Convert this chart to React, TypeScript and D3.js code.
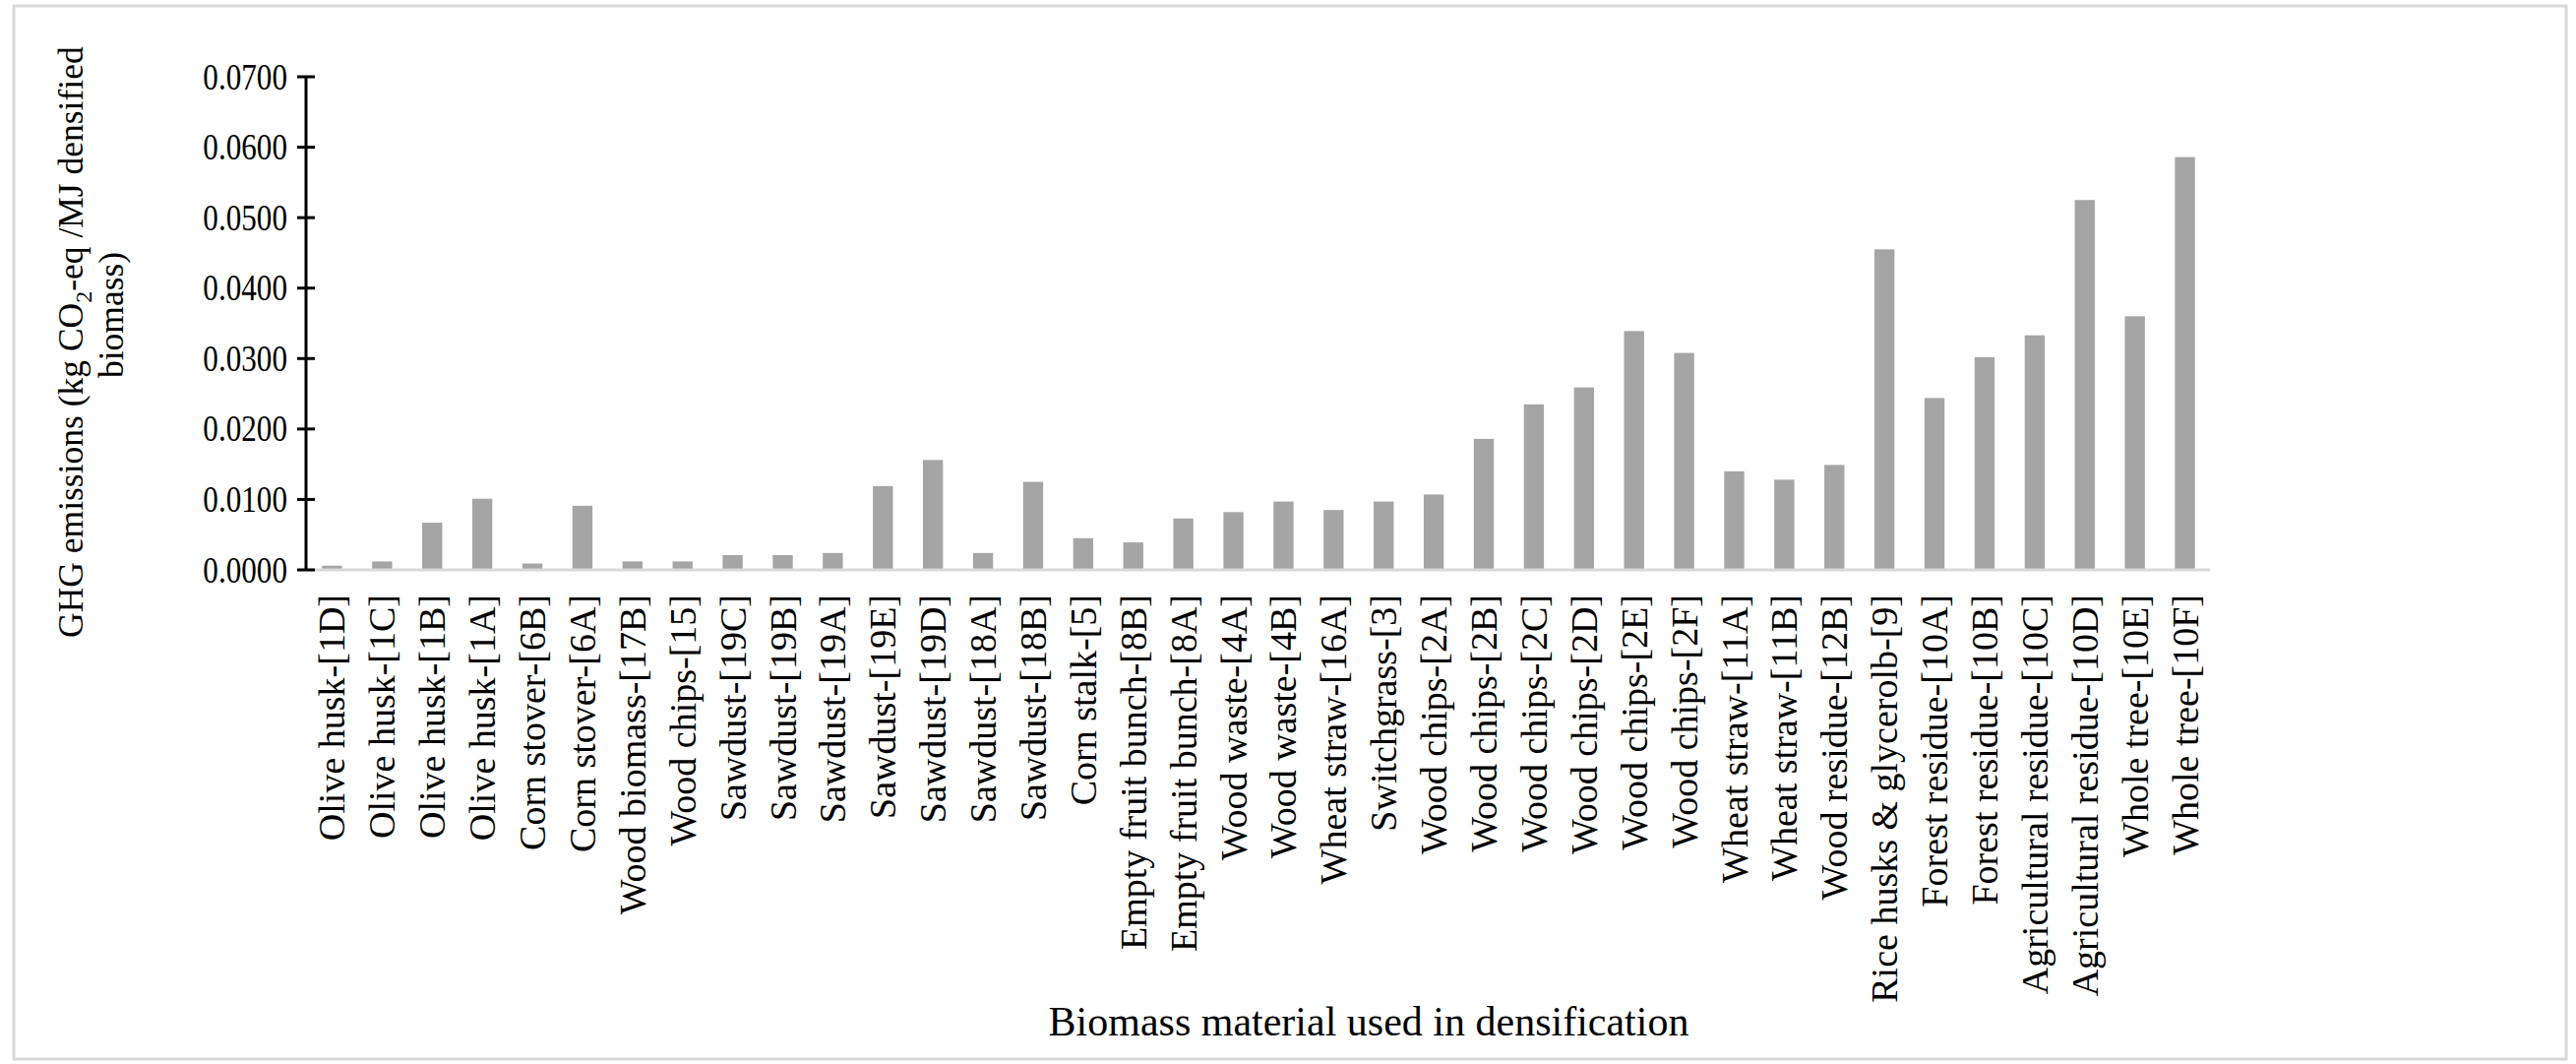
import React from "react";
import * as d3 from "d3";

const categories: string[] = [
  "Olive husk-[1D]", "Olive husk-[1C]", "Olive husk-[1B]", "Olive husk-[1A]",
  "Corn stover-[6B]", "Corn stover-[6A]", "Wood biomass-[17B]", "Wood chips-[15]",
  "Sawdust-[19C]", "Sawdust-[19B]", "Sawdust-[19A]", "Sawdust-[19E]", "Sawdust-[19D]",
  "Sawdust-[18A]", "Sawdust-[18B]", "Corn stalk-[5]", "Empty fruit bunch-[8B]",
  "Empty fruit bunch-[8A]", "Wood waste-[4A]", "Wood waste-[4B]", "Wheat straw-[16A]",
  "Switchgrass-[3]", "Wood chips-[2A]", "Wood chips-[2B]", "Wood chips-[2C]",
  "Wood chips-[2D]", "Wood chips-[2E]", "Wood chips-[2F]", "Wheat straw-[11A]",
  "Wheat straw-[11B]", "Wood residue-[12B]", "Rice husks & glycerolb-[9]",
  "Forest residue-[10A]", "Forest residue-[10B]", "Agricultural residue-[10C]",
  "Agricultural residue-[10D]", "Whole tree-[10E]", "Whole tree-[10F]",
];

const ghgValues: number[] = [
  0.0006, 0.0012, 0.0067, 0.0101, 0.0009, 0.0091, 0.0012, 0.0012,
  0.0021, 0.0021, 0.0024, 0.0119, 0.0156, 0.0024, 0.0125, 0.0045,
  0.0039, 0.0073, 0.0082, 0.0097, 0.0085, 0.0097, 0.0107, 0.0186,
  0.0235, 0.0259, 0.0339, 0.0308, 0.0140, 0.0128, 0.0149, 0.0455,
  0.0244, 0.0302, 0.0333, 0.0525, 0.0360, 0.0586,
];

const yTicks: number[] = [0, 0.01, 0.02, 0.03, 0.04, 0.05, 0.06, 0.07];

const xTitle = "Biomass material used in densification";

export default function App() {
  const W = 2618;
  const H = 1081;
  const axisX = 311;
  const left = 312;
  const right = 2246;
  const top = 78;
  const bottom = 579;
  const font = "'Liberation Serif', 'Times New Roman', serif";

  const x = d3
    .scaleBand<string>()
    .domain(categories)
    .range([left, right])
    .paddingInner(0.6)
    .paddingOuter(0.3);
  const y = d3.scaleLinear().domain([0, 0.07]).range([bottom, top]);
  const fmt = d3.format(".4f");

  return (
    <svg
      width={W}
      height={H}
      style={{ position: "absolute", left: 0, top: 0, background: "#fff" }}
      fontFamily={font}
    >
      <rect x={0} y={0} width={W} height={H} fill="#fff" />
      <rect x={14} y={6} width={2594} height={1070} fill="none" stroke="#d9d9d9" strokeWidth={3} />

      {categories.map((c, i) => (
        <rect
          key={c}
          x={x(c)}
          y={y(ghgValues[i])}
          width={x.bandwidth()}
          height={y(0) - y(ghgValues[i])}
          fill="#a5a5a5"
        />
      ))}

      <line x1={left} x2={right} y1={y(0)} y2={y(0)} stroke="#d9d9d9" strokeWidth={3} />

      <line x1={axisX} x2={axisX} y1={y(0.07)} y2={y(0)} stroke="#000" strokeWidth={3} />
      {yTicks.map((t) => (
        <g key={t}>
          <line x1={axisX - 9} x2={axisX + 9} y1={y(t)} y2={y(t)} stroke="#000" strokeWidth={3} />
          <text
            transform={`translate(292,${y(t)}) scale(0.82,1)`}
            textAnchor="end"
            dominantBaseline="central"
            fontSize={38}
            fill="#000"
          >
            {fmt(t)}
          </text>
        </g>
      ))}

      {categories.map((c) => {
        const cx = (x(c) as number) + x.bandwidth() / 2;
        return (
          <text
            key={c}
            transform={`translate(${cx},604) rotate(-90)`}
            textAnchor="end"
            dominantBaseline="central"
            fontSize={38}
            fill="#000"
          >
            {c}
          </text>
        );
      })}

      <text x={1391} y={1052} textAnchor="middle" fontSize={42} fill="#000">
        {xTitle}
      </text>

      <text
        transform={`translate(72,648) rotate(-90)`}
        textAnchor="start"
        dominantBaseline="central"
        fontSize={35.5}
        fill="#000"
      >
        GHG emissions (kg CO
        <tspan baselineShift="sub" fontSize={24}>2</tspan>
        -eq /MJ densified
      </text>
      <text
        transform={`translate(113,320) rotate(-90)`}
        textAnchor="middle"
        dominantBaseline="central"
        fontSize={35.5}
        fill="#000"
      >
        biomass)
      </text>
    </svg>
  );
}
